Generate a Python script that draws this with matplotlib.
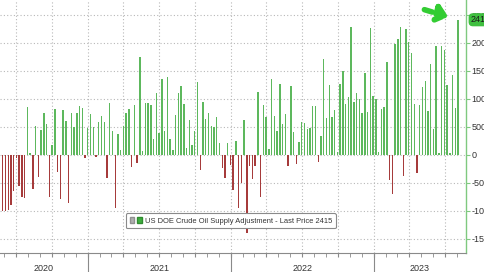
import matplotlib
matplotlib.use("Agg")
import matplotlib.pyplot as plt
import matplotlib.dates as mdates
import matplotlib.transforms as mtransforms
from matplotlib.patches import Patch
from matplotlib.legend_handler import HandlerTuple
import numpy as np
import pandas as pd

plt.rcParams['font.family'] = ['Liberation Sans', 'DejaVu Sans']

# weekly supply adjustment, kb/d
start_week = "2020-05-29"
adjustment = [
    -1000, -1000, -980, -890, -650, -50, -550, -750, -760, 860,
    40, -610, 520, -400, 450, 745, 550, -745, 180, 815,
    -300, -785, 800, 610, -865, 755, 495, 755, 875, 845,
    -50, 490, 725, 505, -35, 595, 700, 595, -405, 920,
    435, -950, 370, 90, 520, 755, 815, -210, 895, -150,
    1745, 70, 935, 925, 895, 280, 1115, 390, 1350, 430,
    1390, 285, 90, 715, 1115, 1240, 910, 130, 625, 180,
    430, 1310, -270, 950, 635, 745, 520, 495, 685, 220,
    -240, -415, 220, -180, -625, 255, -950, -495, 625, -1400,
    -190, -430, -190, 1130, -745, 890, 685, 100, 1360, 700,
    435, 1260, 550, 725, -195, 1230, 415, -165, 240, 585,
    565, 460, 490, 880, 870, -120, 345, 1710, 655, 1250,
    685, 805, 60, 1270, 1500, 910, 1030, 2280, 945, 1110,
    1005, 745, 1470, 770, 2275, 1055, 995, 50, 820, 865,
    1665, -445, -695, 1980, 2080, 2280, -375, 2245, 2010, 1815,
    910, -315, 900, 1220, 1320, 785, 1625, 460, 1950, 30,
    1950, 1875, 1250, 30, 1430, 835, 2415,
]
years = [2020, 2021, 2022, 2023]
yticks = [-1500, -1000, -500, 0, 500, 1000, 1500, 2000, 2500]
last_price = adjustment[-1]
label = "US DOE Crude Oil Supply Adjustment - Last Price %d" % last_price

green = '#5db85d'
red = '#a63b3b'
grid_c = '#b8b8b8'

weeks = pd.date_range(start_week, periods=len(adjustment), freq="7D")
vals = np.array(adjustment)
colors = [green if v >= 0 else red for v in vals]

fig = plt.figure(figsize=(4.85, 2.72), dpi=100)
ax = fig.add_axes([0.0, 0.07, 0.9608, 0.93])

ax.bar(weeks, vals, width=3.6, color=colors, edgecolor='none', zorder=3)

ax.set_xlim(pd.Timestamp("2020-05-22"), pd.Timestamp("2023-08-24"))
ax.set_ylim(-1750, 2768)

# axes look
for s in ['top', 'left']:
    ax.spines[s].set_visible(False)
ax.spines['bottom'].set_color('#8a8a8a')
ax.spines['bottom'].set_linewidth(0.8)
ax.spines['right'].set_color('#7fc97f')
ax.spines['right'].set_linewidth(1.0)

ax.yaxis.tick_right()
ax.set_yticks(yticks)
ax.set_yticklabels([str(t) for t in yticks])
ax.tick_params(axis='y', direction='out', length=3, color='#7fc97f',
               labelsize=6.5, labelcolor='#333333', pad=1)

ax.xaxis.set_major_locator(mdates.MonthLocator(bymonth=[1, 4, 7, 10]))
ax.xaxis.set_minor_locator(mdates.MonthLocator())
ax.tick_params(axis='x', which='both', direction='out', length=3,
               color='#8a8a8a', labelbottom=False)

ax.grid(True, which='major', color=grid_c, linestyle=(0, (1, 2)), linewidth=0.8)
ax.set_axisbelow(True)

# year separators and labels
trans = mtransforms.blended_transform_factory(ax.transData, ax.transAxes)
x0, x1 = ax.get_xlim()
for y in years:
    a = max(mdates.date2num(pd.Timestamp(f"{y}-01-01")), x0)
    b = min(mdates.date2num(pd.Timestamp(f"{y + 1}-01-01")), x1)
    if a > x0:
        ax.plot([a, a], [0, -0.08], transform=trans, color='#8a8a8a',
                lw=0.8, clip_on=False)
    ax.text((a + b) / 2, -0.06, str(y), transform=trans, ha='center',
            va='center', fontsize=6.5, color='#333333')

# legend box
handle = (Patch(facecolor='#b0b0b0', edgecolor='#909090'),
          Patch(facecolor='#3fae3f', edgecolor='#2e8b2e'))
leg = ax.legend([handle], [label], handler_map={tuple: HandlerTuple(ndivide=None, pad=0.3)},
                loc='lower left', bbox_to_anchor=(0.262, 0.082),
                fontsize=5.4, frameon=True, fancybox=True, handlelength=1.6,
                handleheight=0.8, handletextpad=0.4, borderpad=0.5,
                edgecolor='#8a8a8a', framealpha=1)
leg.get_frame().set_linewidth(0.8)
for t in leg.get_texts():
    t.set_color('#333333')

# last value tag
ytrans = mtransforms.blended_transform_factory(ax.transAxes, ax.transData)
ax.text(1.01, last_price, str(last_price), transform=ytrans, ha='left',
        va='center', fontsize=6.5, color='#1a1a1a', clip_on=False, zorder=5,
        bbox=dict(boxstyle='round,pad=0.15,rounding_size=0.4', fc='#3fbf3f',
                  ec='#3fbf3f'))

# green dashed arrow pointing at the last bar
ax.annotate('', xy=(0.968, 0.93), xytext=(0.905, 0.965),
            xycoords='axes fraction',
            arrowprops=dict(arrowstyle='-|>,head_length=0.6,head_width=0.5',
                            color='#33cc33', lw=4, linestyle=(0, (1.5, 1)),
                            mutation_scale=10))

fig.savefig("out.png", dpi=100)
